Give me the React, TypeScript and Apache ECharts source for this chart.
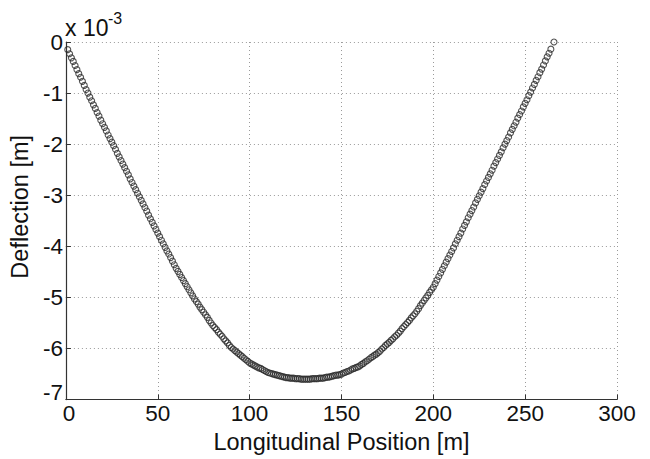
import React, { useEffect, useRef } from "react";
import * as echarts from "echarts";

// Deflection readings (units of 10^-3 m), one per metre starting at station 1 m.
const stationStart = 1; // m
const stationStep = 1; // m
const deflection: number[] = [
  -0.15, -0.23, -0.31, -0.38, -0.46, -0.54, -0.62, -0.69, -0.77, -0.85, // 1-10
  -0.93, -1.0, -1.08, -1.15, -1.23, -1.3, -1.38, -1.45, -1.53, -1.6, // 11-20
  -1.67, -1.74, -1.82, -1.89, -1.96, -2.03, -2.1, -2.18, -2.25, -2.32, // 21-30
  -2.39, -2.46, -2.53, -2.6, -2.68, -2.75, -2.82, -2.89, -2.96, -3.03, // 31-40
  -3.1, -3.17, -3.24, -3.31, -3.39, -3.46, -3.53, -3.6, -3.67, -3.74, // 41-50
  -3.81, -3.88, -3.95, -4.02, -4.09, -4.15, -4.22, -4.29, -4.36, -4.43, // 51-60
  -4.49, -4.55, -4.61, -4.67, -4.73, -4.79, -4.85, -4.91, -4.97, -5.03, // 61-70
  -5.08, -5.13, -5.19, -5.24, -5.29, -5.34, -5.39, -5.45, -5.5, -5.55, // 71-80
  -5.59, -5.63, -5.68, -5.72, -5.76, -5.81, -5.85, -5.89, -5.94, -5.98, // 81-90
  -6.01, -6.04, -6.07, -6.1, -6.13, -6.16, -6.19, -6.22, -6.25, -6.28, // 91-100
  -6.3, -6.32, -6.34, -6.36, -6.38, -6.39, -6.41, -6.43, -6.45, -6.47, // 101-110
  -6.48, -6.49, -6.5, -6.51, -6.52, -6.53, -6.54, -6.55, -6.56, -6.57, // 111-120
  -6.57, -6.58, -6.58, -6.58, -6.59, -6.59, -6.59, -6.6, -6.6, -6.6, // 121-130
  -6.6, -6.6, -6.6, -6.59, -6.59, -6.59, -6.59, -6.58, -6.58, -6.58, // 131-140
  -6.57, -6.56, -6.56, -6.55, -6.54, -6.53, -6.52, -6.52, -6.51, -6.5, // 141-150
  -6.48, -6.47, -6.45, -6.44, -6.42, -6.4, -6.39, -6.37, -6.36, -6.34, // 151-160
  -6.31, -6.29, -6.26, -6.24, -6.21, -6.18, -6.16, -6.13, -6.11, -6.08, // 161-170
  -6.05, -6.01, -5.98, -5.94, -5.91, -5.88, -5.84, -5.81, -5.77, -5.74, // 171-180
  -5.7, -5.66, -5.61, -5.57, -5.53, -5.49, -5.45, -5.4, -5.36, -5.32, // 181-190
  -5.27, -5.22, -5.16, -5.11, -5.06, -5.01, -4.96, -4.9, -4.85, -4.8, // 191-200
  -4.73, -4.66, -4.59, -4.52, -4.45, -4.38, -4.31, -4.24, -4.17, -4.1, // 201-210
  -4.03, -3.95, -3.88, -3.81, -3.74, -3.66, -3.59, -3.52, -3.44, -3.37, // 211-220
  -3.3, -3.23, -3.15, -3.08, -3.01, -2.94, -2.87, -2.79, -2.72, -2.65, // 221-230
  -2.58, -2.51, -2.43, -2.36, -2.29, -2.22, -2.15, -2.07, -2.0, -1.93, // 231-240
  -1.86, -1.78, -1.71, -1.64, -1.57, -1.49, -1.42, -1.35, -1.27, -1.2, // 241-250
  -1.13, -1.05, -0.98, -0.9, -0.83, -0.75, -0.68, -0.6, -0.53, -0.45, // 251-260
  -0.37, -0.29, -0.22, -0.14, // 261-264
];
// Final measured point (support at the far end)
const endStation = 265.7;
const endDeflection = 0;

const xTicks = [0, 50, 100, 150, 200, 250, 300];
const yTicks = [0, -1, -2, -3, -4, -5, -6, -7];

const xLabel = "Longitudinal Position [m]";
const yLabel = "Deflection [m]";
const scaleText = "x 10";
const scaleExp = "-3";

const FONT = "'Liberation Sans', Arial, Helvetica, sans-serif";

export default function App() {
  const ref = useRef<HTMLDivElement>(null);

  useEffect(() => {
    if (!ref.current) return;
    const chart = echarts.init(ref.current, undefined, { renderer: "svg" });

    const points: [number, number][] = deflection.map((d, i) => [
      stationStart + i * stationStep,
      d,
    ]);
    points.push([endStation, endDeflection]);

    const axisColor = "#333";
    const gridLine = {
      show: true,
      lineStyle: { color: "#9a9a9a", width: 1, type: [1, 3] as number[] },
    };
    const labelText = { fontFamily: FONT, fontSize: 22.5, color: "#111", lineHeight: 20 };
    const yMin = yTicks[yTicks.length - 1];
    const xMin = xTicks[0];

    chart.setOption({
      animation: false,
      backgroundColor: "#ffffff",
      grid: { left: 64, right: 33, top: 42, bottom: 50, containLabel: false },
      xAxis: {
        type: "value",
        min: xMin,
        max: xTicks[xTicks.length - 1],
        interval: 50,
        name: xLabel,
        nameLocation: "middle",
        nameGap: 29,
        nameTextStyle: { fontFamily: FONT, fontSize: 23.5, color: "#111" },
        axisLine: { show: true, onZero: false, lineStyle: { color: axisColor, width: 1.2 } },
        axisTick: { show: true, inside: true, length: 5, lineStyle: { color: axisColor } },
        axisLabel: {
          ...labelText,
          margin: 4,
          showMinLabel: true,
          showMaxLabel: true,
          formatter: (v: number) => (v === xMin ? `{first|${v}}` : `${v}`),
          rich: { first: { ...labelText, padding: [0, 0, 0, 6] } },
        },
        splitLine: gridLine,
      },
      yAxis: {
        type: "value",
        min: yMin,
        max: yTicks[0],
        interval: 1,
        name: yLabel,
        nameLocation: "middle",
        nameGap: 32,
        nameRotate: 90,
        nameTextStyle: {
          fontFamily: FONT,
          fontSize: 23.5,
          color: "#111",
          padding: [0, 0, 0, 28],
        },
        axisLine: { show: true, onZero: false, lineStyle: { color: axisColor, width: 1.2 } },
        axisTick: { show: true, inside: true, length: 5, lineStyle: { color: axisColor } },
        axisLabel: {
          ...labelText,
          margin: 3,
          showMinLabel: true,
          showMaxLabel: true,
          formatter: (v: number) => (v === yMin ? `{last|${v}}` : `${v}`),
          rich: { last: { ...labelText, padding: [0, 0, 14, 0] } },
        },
        splitLine: gridLine,
      },
      graphic: [
        {
          type: "text",
          left: 65,
          top: 16,
          style: { text: scaleText, font: `23px ${FONT}`, fill: "#111" },
        },
        {
          type: "text",
          left: 108,
          top: 10,
          style: { text: scaleExp, font: `16px ${FONT}`, fill: "#111" },
        },
      ],
      series: [
        {
          type: "scatter",
          data: points,
          symbol: "circle",
          symbolSize: 6,
          itemStyle: {
            color: "rgba(255,255,255,0)",
            borderColor: "#2a2a2a",
            borderWidth: 1.1,
          },
          emphasis: { disabled: true },
          silent: true,
        },
      ],
    });

    return () => chart.dispose();
  }, []);

  return (
    <div
      ref={ref}
      style={{ position: "fixed", left: 0, top: 0, width: 650, height: 459 }}
    />
  );
}
